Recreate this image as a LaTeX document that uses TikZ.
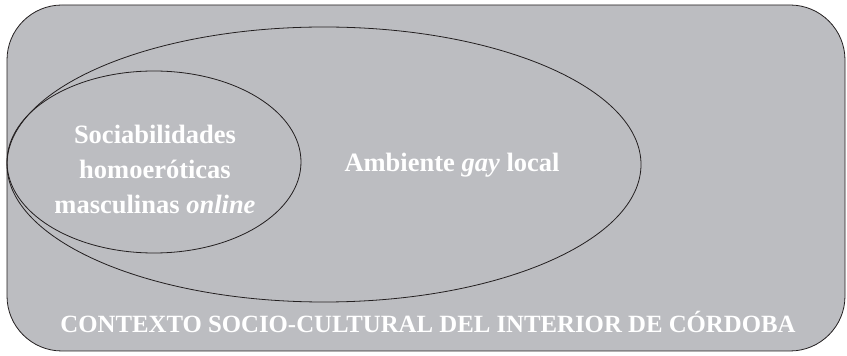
\documentclass[tikz,border=0pt]{standalone}
\usepackage{fontspec}
\setmainfont{Liberation Serif}
\usetikzlibrary{shapes.geometric}
\definecolor{boxgray}{HTML}{BCBDC1}
\definecolor{inkblack}{HTML}{231F20}
\tikzset{
  ring/.style={ellipse, draw=inkblack, line width=0.8pt, inner sep=0pt},
  label/.style={text=white, font=\fontsize{26.5}{35}\selectfont\bfseries, inner sep=0pt},
  caplabel/.style={label, font=\fontsize{24.8}{30}\selectfont\bfseries}
}
\begin{document}
\begin{tikzpicture}[x=1pt,y=1pt]
\useasboundingbox (0,0) rectangle (847,356);
\draw[fill=boxgray, draw=inkblack, line width=0.8pt, rounded corners=55pt] (7,5) rectangle (845,351);
\node[ring, minimum width=634pt, minimum height=275pt] (big) at (324,191.5) {};
\node[ring, minimum width=294pt, minimum height=182pt] (small) at (154,194) {};
\node[label, anchor=base] (amb) at (452,184) {Ambiente \textit{gay} local};
\node[label, align=center] (soc) at (155,187) {Sociabilidades\\homoeróticas\\masculinas \textit{online}};
\node[caplabel, anchor=base] (ctx) at (428,23) {CONTEXTO SOCIO-CULTURAL DEL INTERIOR DE CÓRDOBA};
\end{tikzpicture}
\end{document}
